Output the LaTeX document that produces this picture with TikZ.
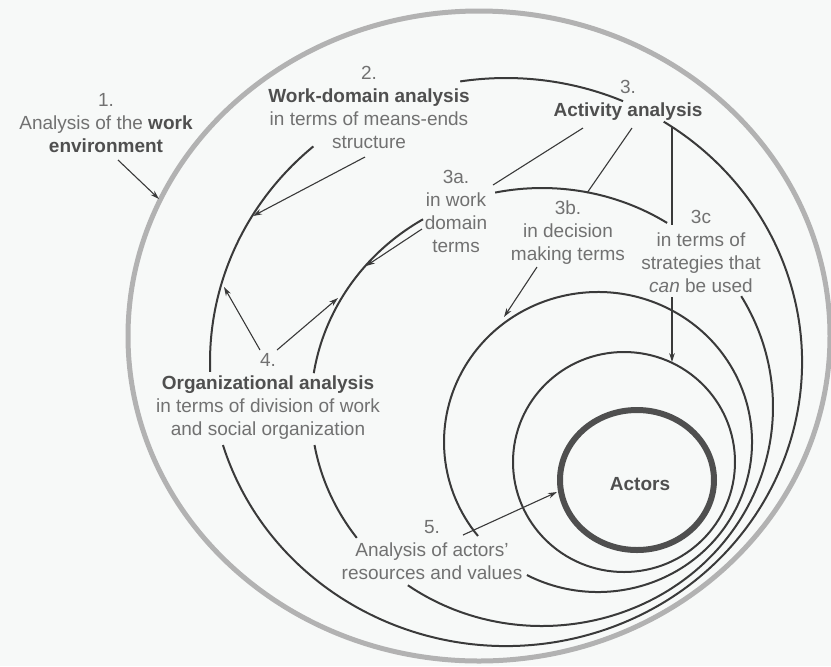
\documentclass[tikz,border=0pt]{standalone}
\usepackage{fontspec}
\setmainfont{Liberation Sans}
\usepackage{tikz}
\usetikzlibrary{arrows.meta}
\definecolor{paper}{HTML}{F7F9F8}
\definecolor{ink}{HTML}{3A3A3A}
\definecolor{halo}{HTML}{B2B2B2}
\definecolor{words}{HTML}{717171}
\definecolor{heavy}{HTML}{4F4F4F}
\newcommand{\hd}[1]{\textcolor{heavy}{\textbf{#1}}}

\begin{document}
\begin{tikzpicture}[x=0.5pt,y=-0.5pt]
      \tikzstyle ring=[ink, line width=1pt]
      \tikzstyle stroke=[ink, line width=0.55pt]
      \tikzstyle pointer=[stroke, -{Stealth[length=4.5pt,width=2.8pt]}]
      \tikzstyle txt=[words, align=center, inner sep=0pt,
      font=\fontsize{9.5}{11.5}\selectfont]
      \useasboundingbox (0,0) rectangle (831,666);
      \fill [paper] (0,0) rectangle (831,666);
      \draw [halo, line width=2.5pt] (479,336) ellipse [x radius=351, y radius=325];
      \draw [ring] (506,362) ++(-98.9:296 and 284) arc [start angle=-98.9, end angle=-66.7, x radius=296, y radius=284];
      \draw [ring] (506,362) ++(-182:296 and 284) arc [start angle=-182, end angle=-130.6, x radius=296, y radius=284];
      \draw [ring] (506,362) ++(-197:296 and 284) arc [start angle=-197, end angle=-417.8, x radius=296, y radius=284];
      \draw [ring] (542,407) ++(-101.7:231 and 219) arc [start angle=-101.7, end angle=-57.2, x radius=231, y radius=219];
      \draw [ring] (542,407) ++(-171.1:231 and 219) arc [start angle=-171.1, end angle=-121, x radius=231, y radius=219];
      \draw [ring] (542,407) ++(-216.7:231 and 219) arc [start angle=-216.7, end angle=-190, x radius=231, y radius=219];
      \draw [ring] (542,407) ++(-234.5:231 and 219) arc [start angle=-234.5, end angle=-390.4, x radius=231, y radius=219];
      \draw [ring] (598,442) ++(-242.5:154 and 150) arc [start angle=-242.5, end angle=-578.8, x radius=154, y radius=150];
      \draw [ring] (624,462) ellipse [x radius=111, y radius=110];
      \draw [heavy, line width=3pt] (637,480) ellipse [x radius=77, y radius=70];
      \node (env) [txt] at (106,123) {1.\\Analysis of the \hd{work}\\\hd{environment}};
      \node (wda) [txt] at (369,107) {2.\\\hd{Work-domain analysis}\\in terms of means-ends\\structure};
      \node (act) [txt] at (628,100) {3.\\\hd{Activity analysis}};
      \node (wdt) [txt] at (456,211) {3a.\\in work\\domain\\terms};
      \node (dmt) [txt] at (568,233) {3b.\\in decision\\making terms};
      \node (stg) [txt] at (701,251) {3c\\in terms of\\strategies that\\\emph{can} be used};
      \node (org) [txt] at (268,396) {4.\\\hd{Organizational analysis}\\in terms of division of work\\and social organization};
      \node (res) [txt] at (432,550) {5.\\Analysis of actors'\\resources and values};
      \node (actors) [txt] at (640,484) {\hd{Actors}};
      \coordinate (envtail) at (118,160);
      \coordinate (envtip) at (159,199);
      \coordinate (wdatail) at (365,157);
      \coordinate (wdatip) at (253,216);
      \coordinate (wdttail) at (422,229);
      \coordinate (wdttip) at (366,266);
      \coordinate (dmttail) at (537,267);
      \coordinate (dmttip) at (504,317);
      \coordinate (stgtail) at (672,297);
      \coordinate (stgtip) at (672,362);
      \coordinate (orgleft) at (260,350);
      \coordinate (orgright) at (277,350);
      \coordinate (orgtipA) at (224,287);
      \coordinate (orgtipD) at (338,298);
      \coordinate (restail) at (463,535);
      \coordinate (restip) at (557,492);
      \coordinate (acta) at (583,128);
      \coordinate (actb) at (632,128);
      \coordinate (actc) at (672,127);
      \coordinate (enda) at (493,185);
      \coordinate (endb) at (587,193);
      \coordinate (endc) at (672,225);
      \draw [pointer] (envtail) -- (envtip);
      \draw [pointer] (wdatail) -- (wdatip);
      \draw [pointer] (wdttail) -- (wdttip);
      \draw [pointer] (dmttail) -- (dmttip);
      \draw [pointer] (stgtail) -- (stgtip);
      \draw [pointer] (orgleft) -- (orgtipA);
      \draw [pointer] (orgright) -- (orgtipD);
      \draw [pointer] (restail) -- (restip);
      \draw [stroke] (acta) -- (enda);
      \draw [stroke] (actb) -- (endb);
      \draw [stroke] (actc) -- (endc);
    \end{tikzpicture}
\end{document}
